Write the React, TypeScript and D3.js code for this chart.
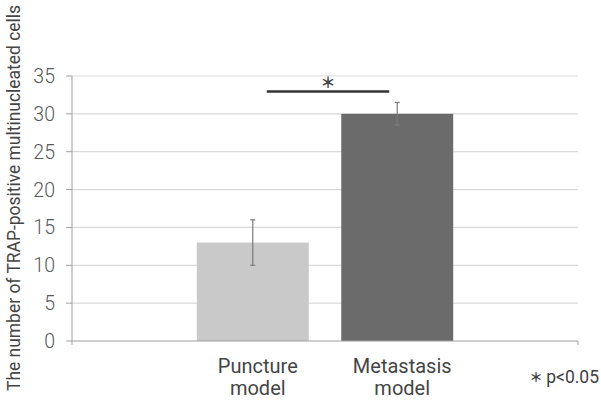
import React from "react";
import * as d3 from "d3";

const categories = ["Puncture model", "Metastasis model"];
const labelLines = [["Puncture", "model"], ["Metastasis", "model"]];
const means = [13, 30];
const errLow = [10, 28.5];
const errHigh = [16, 31.5];
const barColors = ["#c9c9c9", "#6b6b6b"];
const yTicks = [0, 5, 10, 15, 20, 25, 30, 35];
const yTitle = "The number of TRAP-positive multinucleated cells";
const sigLabel = "＊";
const noteLabel = "p<0.05";

const W = 601, H = 400;
const left = 72, right = 578, top = 76, bottom = 341;
const FONT = "Roboto, 'Noto Sans', sans-serif";
const CJK = "'Noto Sans CJK JP', sans-serif";

export default function App() {
  const x = d3.scaleBand<string>().domain(categories).range([left, right]).paddingInner(0.225).paddingOuter(0.864);
  const y = d3.scaleLinear().domain([0, 35]).range([bottom, top]);
  const bw = x.bandwidth();
  const cx = (i: number) => (x(categories[i]) as number) + bw / 2;
  const sigY = y(32.95);
  const sx1 = cx(0) + 14, sx2 = cx(1) - 8;
  return (
    <svg width={W} height={H} style={{ position: "absolute", left: 0, top: 0, background: "#fff" }} fontFamily={FONT}>
      {yTicks.map((t) => (
        <g key={t}>
          {t > 0 && <line x1={left} x2={right} y1={y(t)} y2={y(t)} stroke="#d9d9d9" strokeWidth={1.2} />}
          <line x1={left - 6} x2={left} y1={y(t)} y2={y(t)} stroke="#a0a0a0" strokeWidth={1} />
          <text x={55} y={y(t) + 7} textAnchor="end" fontSize={19.5} fontWeight={300} fill="#595959">{t}</text>
        </g>
      ))}
      {categories.map((c, i) => (
        <rect key={c} x={x(c)} y={y(means[i])} width={bw} height={y(0) - y(means[i])} fill={barColors[i]} />
      ))}
      <line x1={left} x2={left} y1={top} y2={bottom} stroke="#a0a0a0" strokeWidth={1} />
      <line x1={left} x2={right} y1={bottom} y2={bottom} stroke="#a0a0a0" strokeWidth={1.2} />
      <line x1={left} x2={left} y1={bottom} y2={bottom + 4} stroke="#a0a0a0" />
      <line x1={right} x2={right} y1={bottom} y2={bottom + 4} stroke="#a0a0a0" />
      {categories.map((c, i) => (
        <g key={"e" + c} stroke="#7a7a7a" strokeWidth={1.2}>
          <line x1={cx(i)} x2={cx(i)} y1={y(errLow[i])} y2={y(errHigh[i])} />
          <line x1={cx(i) - 2.5} x2={cx(i) + 2.5} y1={y(errLow[i])} y2={y(errLow[i])} />
          <line x1={cx(i) - 2.5} x2={cx(i) + 2.5} y1={y(errHigh[i])} y2={y(errHigh[i])} />
        </g>
      ))}
      {categories.map((c, i) =>
        labelLines[i].map((ln, j) => (
          <text key={"l" + c + j} x={cx(i) + 5} y={373 + j * 22} textAnchor="middle" fontSize={20} fill="#454545">{ln}</text>
        ))
      )}
      <line x1={sx1} x2={sx2} y1={sigY} y2={sigY} stroke="#333" strokeWidth={2.6} />
      <text x={(sx1 + sx2) / 2} y={81} dominantBaseline="central" textAnchor="middle" fontSize={15} fontWeight={700} fontFamily={CJK} fill="#404040">{sigLabel}</text>
      <text x={536} y={376} dominantBaseline="central" textAnchor="middle" fontSize={13} fontWeight={700} fontFamily={CJK} fill="#404040">{sigLabel}</text>
      <text x={599} y={383} textAnchor="end" fontSize={17.5} fill="#404040">{noteLabel}</text>
      <text transform={`translate(19.5,${198}) rotate(-90)`} textAnchor="middle" fontSize={17.5} textLength={386} lengthAdjust="spacingAndGlyphs" fill="#454545">{yTitle}</text>
    </svg>
  );
}
